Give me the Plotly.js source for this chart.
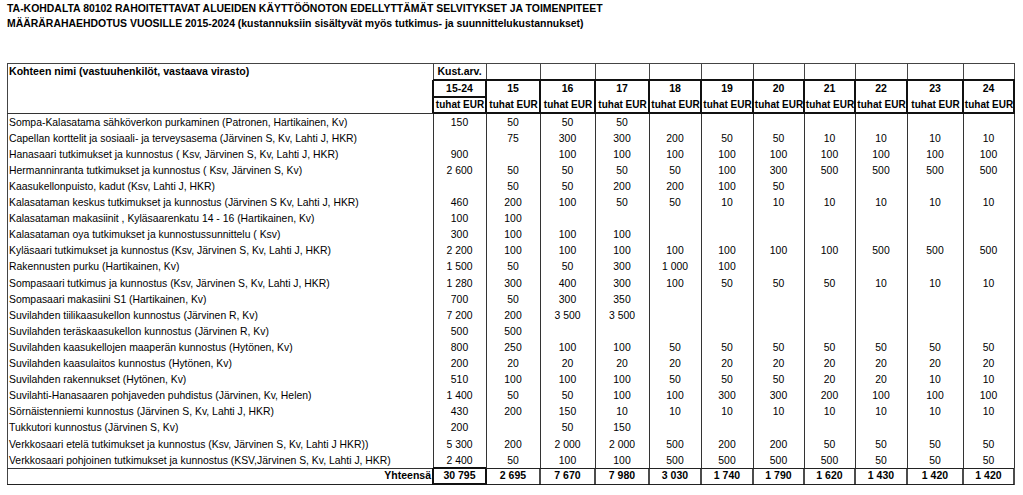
<!DOCTYPE html>
<html><head><meta charset="utf-8">
<script src="https://cdn.plot.ly/plotly-3.0.1.min.js"></script>
<style>html,body{margin:0;padding:0;background:#fff;} #chart{width:1023px;height:495px;}</style>
</head><body><div id="chart"></div>
<script>
// ---------- DATA ----------
const titleLines = [
  "TA-KOHDALTA 80102 RAHOITETTAVAT ALUEIDEN KÄYTTÖÖNOTON EDELLYTTÄMÄT SELVITYKSET JA TOIMENPITEET",
  "MÄÄRÄRAHAEHDOTUS VUOSILLE 2015-2024 (kustannuksiin sisältyvät myös tutkimus- ja suunnittelukustannukset)"
];
const nameHeader = "Kohteen nimi (vastuuhenkilöt, vastaava virasto)";
const costHeader = "Kust.arv.";
const periodLabels = ["15-24","15","16","17","18","19","20","21","22","23","24"];
const unitLabel = "tuhat EUR";
const totalLabel = "Yhteensä";

const projects = [
  "Sompa-Kalasatama sähköverkon purkaminen (Patronen, Hartikainen, Kv)",
  "Capellan korttelit ja sosiaali- ja terveysasema (Järvinen S, Kv, Lahti J, HKR)",
  "Hanasaari tutkimukset ja kunnostus ( Ksv, Järvinen S, Kv, Lahti J, HKR)",
  "Hermanninranta tutkimukset ja kunnostus ( Ksv, Järvinen S, Kv)",
  "Kaasukellonpuisto, kadut (Ksv, Lahti J, HKR)",
  "Kalasataman keskus tutkimukset ja kunnostus (Järvinen S Kv, Lahti J, HKR)",
  "Kalasataman makasiinit , Kyläsaarenkatu 14 - 16 (Hartikainen, Kv)",
  "Kalasataman oya tutkimukset ja kunnostussunnittelu ( Ksv)",
  "Kyläsaari tutkimukset ja kunnostus (Ksv, Järvinen S, Kv, Lahti J, HKR)",
  "Rakennusten purku (Hartikainen, Kv)",
  "Sompasaari tutkimus ja kunnostus (Ksv, Järvinen S, Kv, Lahti J, HKR)",
  "Sompasaari makasiini S1 (Hartikainen, Kv)",
  "Suvilahden tiilikaasukellon kunnostus (Järvinen R, Kv)",
  "Suvilahden teräskaasukellon kunnostus (Järvinen R, Kv)",
  "Suvilahden kaasukellojen maaperän kunnostus (Hytönen, Kv)",
  "Suvilahden kaasulaitos kunnostus (Hytönen, Kv)",
  "Suvilahden rakennukset (Hytönen, Kv)",
  "Suvilahti-Hanasaaren pohjaveden puhdistus (Järvinen, Kv, Helen)",
  "Sörnäistenniemi kunnostus (Järvinen S, Kv, Lahti J, HKR)",
  "Tukkutori kunnostus (Järvinen S, Kv)",
  "Verkkosaari etelä tutkimukset ja kunnostus (Ksv, Järvinen S, Kv, Lahti J HKR))",
  "Verkkosaari pohjoinen tutkimukset ja kunnostus (KSV,Järvinen S, Kv, Lahti J, HKR)"
];
const _ = null;
const cost15_24 = [150, _, 900, 2600, _, 460, 100, 300, 2200, 1500, 1280, 700, 7200, 500, 800, 200, 510, 1400, 430, 200, 5300, 2400];
const y15 = [50, 75, _, 50, 50, 200, 100, 100, 100, 50, 300, 50, 200, 500, 250, 20, 100, 50, 200, _, 200, 50];
const y16 = [50, 300, 100, 50, 50, 100, _, 100, 100, 50, 400, 300, 3500, _, 100, 20, 100, 50, 150, 50, 2000, 100];
const y17 = [50, 300, 100, 50, 200, 50, _, 100, 100, 300, 300, 350, 3500, _, 100, 20, 100, 100, 10, 150, 2000, 100];
const y18 = [_, 200, 100, 50, 200, 50, _, _, 100, 1000, 100, _, _, _, 50, 20, 50, 100, 10, _, 500, 500];
const y19 = [_, 50, 100, 100, 100, 10, _, _, 100, 100, 50, _, _, _, 50, 20, 50, 300, 10, _, 200, 500];
const y20 = [_, 50, 100, 300, 50, 10, _, _, 100, _, 50, _, _, _, 50, 20, 50, 300, 10, _, 200, 500];
const y21 = [_, 10, 100, 500, _, 10, _, _, 100, _, 50, _, _, _, 50, 20, 20, 200, 10, _, 50, 500];
const y22 = [_, 10, 100, 500, _, 10, _, _, 500, _, 10, _, _, _, 50, 20, 20, 100, 10, _, 50, 50];
const y23 = [_, 10, 100, 500, _, 10, _, _, 500, _, 10, _, _, _, 50, 20, 10, 100, 10, _, 50, 50];
const y24 = [_, 10, 100, 500, _, 10, _, _, 500, _, 10, _, _, _, 50, 20, 10, 100, 10, _, 50, 50];
const totals = [30795, 2695, 7670, 7980, 3030, 1740, 1790, 1620, 1430, 1420, 1420];

const valueColumns = [cost15_24, y15, y16, y17, y18, y19, y20, y21, y22, y23, y24];

// ---------- LAYOUT GEOMETRY (pixel-like axis units) ----------
const W = 1023, H = 495;
const colEdges = [433, 486, 540, 595, 649, 701, 753, 804, 855, 907, 963, 1014];
const LEFT = 7, RIGHT = colEdges[colEdges.length - 1];
const TOP = 63, H1 = 80, H2 = 97, H3 = 113, TOT = 468, BOT = 484;
const ROW0 = 123, PITCH = 16.1;
const rowY = i => ROW0 + PITCH * i;
const colMid = j => (colEdges[j] + colEdges[j + 1]) / 2;

const FONT = '"Liberation Sans", Arial, sans-serif';
const INK = '#000';
const fmt = v => (v === null || v === undefined) ? '' : String(v).replace(/\B(?=(\d{3})+(?!\d))/g, '\u00a0');

// ---------- TRACES ----------
const traces = [];
function textTrace(xs, ys, texts, font, pos) {
  traces.push({
    type: 'scatter', mode: 'text', x: xs, y: ys, text: texts,
    textposition: pos || 'middle center', textfont: font,
    hoverinfo: 'skip', showlegend: false, cliponaxis: false
  });
}
const bold = size => ({family: FONT, size: size, color: INK, weight: 'bold'});
// project names
textTrace(projects.map(() => 9), projects.map((_, i) => rowY(i)), projects,
  {family: FONT, size: 10.4, color: INK}, 'middle right');
// values
valueColumns.forEach((col, j) => {
  const xs = [], ys = [], ts = [];
  col.forEach((v, i) => { if (v !== null) { xs.push(colMid(j)); ys.push(rowY(i)); ts.push(fmt(v)); } });
  textTrace(xs, ys, ts, {family: FONT, size: 10.4, color: INK});
});
// totals
const totY = (TOT + BOT) / 2 + 0.5;
textTrace(totals.map((_, j) => colMid(j)), totals.map(() => totY), totals.map(fmt), bold(10.5));
textTrace([colEdges[0] - 2], [totY], [totalLabel], bold(10.5), 'middle left');
// header
textTrace([9], [(TOP + H1) / 2 + 0.5], [nameHeader], bold(10.6), 'middle right');
textTrace([colMid(0)], [(TOP + H1) / 2 + 0.5], [costHeader], bold(10.5));
textTrace(periodLabels.map((_, j) => colMid(j)), periodLabels.map(() => (H1 + H2) / 2 + 0.5), periodLabels, bold(10.5));
textTrace(periodLabels.map((_, j) => colMid(j) + 0.5), periodLabels.map(() => (H2 + H3) / 2 + 0.5),
  periodLabels.map(() => unitLabel), bold(10));
// title lines
textTrace([7], [9], [titleLines[0]], bold(10.45), 'middle right');
textTrace([7], [24.5], [titleLines[1]], bold(10.45), 'middle right');

// ---------- SHAPES (grid lines) ----------
const shapes = [];
function ln(x0, y0, x1, y1, w, c) {
  shapes.push({type: 'line', xref: 'x', yref: 'y', x0, y0, x1, y1, line: {color: c || '#222', width: w}});
}
const THIN = 1, THICK = 2;
// outer border (thin)
ln(LEFT + 0.5, TOP, LEFT + 0.5, BOT + 0.5, THIN, '#444');
ln(LEFT, TOP + 0.5, RIGHT, TOP + 0.5, THIN, '#444');
ln(LEFT, BOT + 0.5, RIGHT, BOT + 0.5, THIN, '#222');
// header bottom thin across name column
ln(LEFT, H3 + 0.5, colEdges[0], H3 + 0.5, THIN, '#333');
// total row top across name column
ln(LEFT, TOT + 0.5, colEdges[0], TOT + 0.5, THIN, '#333');
// verticals
colEdges.forEach((x, k) => {
  ln(x + 0.5, TOP, x + 0.5, H1, THIN, '#444');
  ln(x, H1, x, H3, THICK, '#111');
  ln(x + 0.5, H3, x + 0.5, TOT, THIN, '#333');
  ln(x, TOT, x, BOT + 1, (k <= 1) ? THICK : 1.5, '#111');
});
// header horizontals
ln(colEdges[0], H1, RIGHT + 1, H1, THICK, '#111');
ln(colEdges[0], H2, colEdges[1], H2, THICK, '#111');
ln(colEdges[0], H3, RIGHT + 1, H3, THICK, '#111');
// total row horizontals
ln(colEdges[1], TOT + 0.5, RIGHT, TOT + 0.5, THIN, '#222');
ln(colEdges[0], TOT, colEdges[1], TOT, THICK, '#111');
ln(colEdges[0], BOT, colEdges[1], BOT, THICK, '#111');

const layout = {
  width: W, height: H,
  margin: {l: 0, r: 0, t: 0, b: 0, pad: 0},
  paper_bgcolor: '#fff', plot_bgcolor: '#fff',
  xaxis: {range: [0, W], visible: false, fixedrange: true},
  yaxis: {range: [H, 0], visible: false, fixedrange: true},
  shapes: shapes,
  showlegend: false,
  hovermode: false
};
Plotly.newPlot('chart', traces, layout, {staticPlot: true, displayModeBar: false});
</script>
</body></html>
